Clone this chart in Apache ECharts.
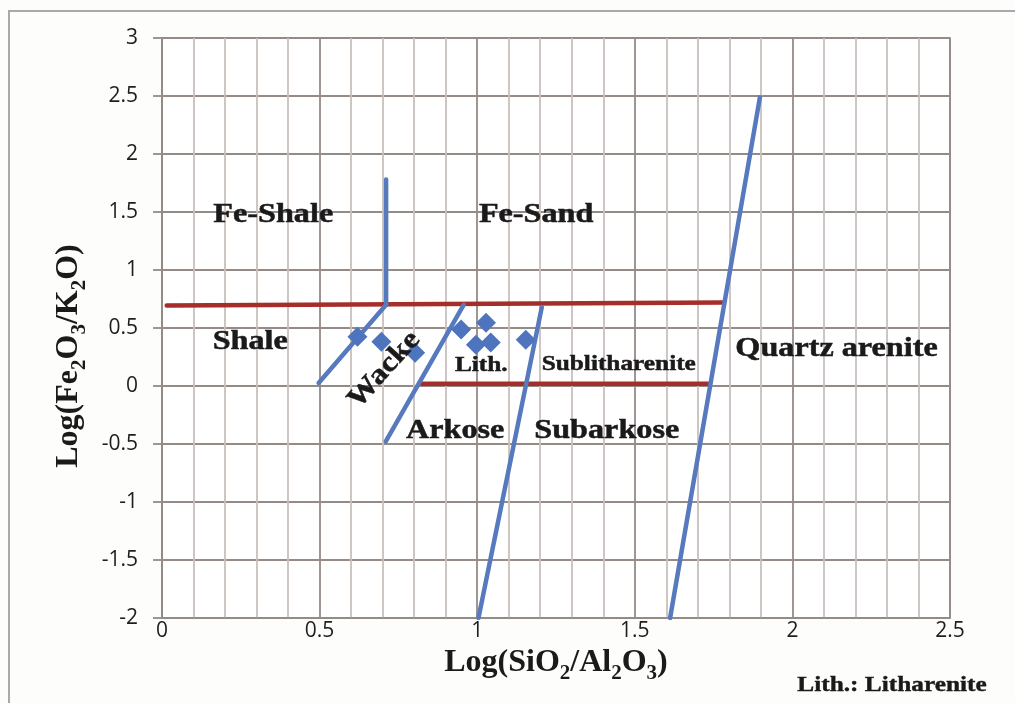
<!DOCTYPE html>
<html>
<head>
<meta charset="utf-8">
<script src="https://cdn.jsdelivr.net/npm/echarts@6/dist/echarts.min.js"></script>
<style>
  html, body { margin: 0; padding: 0; background: #fdfdfb; }
  #chart { width: 1015px; height: 703px; }
</style>
</head>
<body>
<div id="chart"></div>
<script>
// Sample compositions: [log(SiO2/Al2O3), log(Fe2O3/K2O)]
const samples = [
  [0.620, 0.425],
  [0.696, 0.382],
  [0.803, 0.287],
  [0.949, 0.486],
  [1.028, 0.546],
  [0.996, 0.356],
  [1.043, 0.374],
  [1.154, 0.399]
];

// Classification field boundaries (Herron 1988)
const feUpperLine = [[0.015, 0.693], [1.78, 0.72]];
const lithLowerLine = [[0.824, 0.02], [1.733, 0.02]];
const feShaleSandLine = [[0.711, 1.78], [0.711, 0.70]];
const shaleWackeLine = [[0.711, 0.70], [0.497, 0.026]];
const wackeArkoseLine = [[0.71, -0.478], [0.957, 0.70]];
const arkoseSubarkoseLine = [[1.004, -2.0], [1.205, 0.68]];
const quartzLine = [[1.612, -2.0], [1.897, 2.49]];

// Field names and their anchors in data units
const fieldNames = ['Fe-Shale', 'Fe-Sand', 'Shale', 'Wacke', 'Lith.', 'Sublitharenite', 'Arkose', 'Subarkose', 'Quartz arenite'];
const fieldAnchors = [[0.353, 1.478], [1.187, 1.478], [0.28, 0.382], [0.705, 0.14], [1.013, 0.18], [1.449, 0.184], [0.93, -0.39], [1.411, -0.39], [2.14, 0.32]];

const noteText = 'Lith.: Litharenite';

const blue = '#5779bd';
const red = '#a52d2a';
const gridMajor = '#958b86';
const gridMinor = '#c9c0bb';
const ink = '#1a1a1a';
const serif = '"Liberation Serif", "Times New Roman", serif';
const sans = '"Open Sans", sans-serif';

function boundary(data, color) {
  return {
    type: 'line',
    data: data,
    showSymbol: false,
    symbol: 'none',
    silent: true,
    lineStyle: { color: color, width: 4.5, cap: 'round' },
    z: color === red ? 2 : 3
  };
}

const titleRich = {
  a: { fontFamily: serif, fontWeight: 'bold', fontSize: 32, lineHeight: 42, color: ink, verticalAlign: 'middle' },
  s: { fontFamily: serif, fontWeight: 'bold', fontSize: 21, lineHeight: 42, color: ink, verticalAlign: 'bottom' }
};

const chart = echarts.init(document.getElementById('chart'));

chart.setOption({
  backgroundColor: 'transparent',
  animation: false,
  grid: {
    left: 162, right: 65, top: 38, bottom: 85,
    show: true, borderColor: gridMajor, borderWidth: 1.5, backgroundColor: '#ffffff'
  },
  xAxis: {
    type: 'value', min: 0, max: 2.5, interval: 0.5,
    name: '{a|Log(SiO}{s|2}{a|/Al}{s|2}{a|O}{s|3}{a|)}',
    nameLocation: 'middle', nameGap: 20,
    nameTextStyle: { rich: titleRich },
    axisLine: { show: true, onZero: false, lineStyle: { color: gridMajor, width: 1.5 } },
    axisTick: { show: false },
    minorTick: { show: false, splitNumber: 5 },
    axisLabel: { fontFamily: sans, fontSize: 21, color: '#1e1e1e', margin: 3 },
    splitLine: { show: true, lineStyle: { color: gridMajor, width: 1.8 } },
    minorSplitLine: { show: true, lineStyle: { color: gridMinor, width: 1.8 } }
  },
  yAxis: {
    type: 'value', min: -2, max: 3, interval: 0.5,
    name: '{a|Log(Fe}{s|2}{a|O}{s|3}{a|/K}{s|2}{a|O)}',
    nameLocation: 'middle', nameGap: 72,
    nameTextStyle: { rich: titleRich, padding: [0, 56, 0, 0] },
    axisLine: { show: true, onZero: false, lineStyle: { color: gridMajor, width: 1.5 } },
    axisTick: { show: true, inside: false, length: 9, lineStyle: { color: gridMajor, width: 1.8 } },
    axisLabel: { fontFamily: sans, fontSize: 21, color: '#1e1e1e', margin: 24 },
    splitLine: { show: true, lineStyle: { color: gridMajor, width: 1.8 } }
  },
  series: [
    boundary(feUpperLine, red),
    boundary(lithLowerLine, red),
    boundary(feShaleSandLine, blue),
    boundary(shaleWackeLine, blue),
    boundary(wackeArkoseLine, blue),
    boundary(arkoseSubarkoseLine, blue),
    boundary(quartzLine, blue),
    {
      type: 'scatter',
      data: samples,
      symbol: 'diamond',
      symbolSize: 20,
      itemStyle: { color: '#4d74bd', opacity: 1 },
      z: 5
    }
  ]
});

// Field labels: bold serif, slightly widened
const labelStyle = {
  'Lith.': { size: 22, rot: 0 },
  'Sublitharenite': { size: 22, rot: 0 },
  'Wacke': { size: 28, rot: 48 }
};

const graphics = fieldNames.map(function (name, i) {
  const p = chart.convertToPixel({ gridIndex: 0 }, fieldAnchors[i]);
  const st = labelStyle[name] || { size: 28, rot: 0 };
  return {
    type: 'text',
    x: p[0], y: p[1],
    rotation: st.rot * Math.PI / 180,
    scaleX: 1.15,
    z: 10,
    style: {
      text: name,
      font: 'bold ' + st.size + 'px ' + serif,
      fill: ink,
      stroke: ink,
      lineWidth: 0.5,
      align: 'center',
      verticalAlign: 'middle'
    }
  };
});

graphics.push({
  type: 'text',
  x: 892, y: 685,
  scaleX: 1.15,
  z: 10,
  style: {
    text: noteText,
    font: 'bold 22px ' + serif,
    fill: ink,
    stroke: ink,
    lineWidth: 0.4,
    align: 'center',
    verticalAlign: 'middle'
  }
});

// Outer frame of the figure
graphics.push({
  type: 'polyline',
  shape: { points: [[9, 703], [9, 11], [1015, 11]] },
  style: { stroke: '#a9a9a9', lineWidth: 2, fill: null },
  z: 1
});

chart.setOption({ graphic: graphics });
</script>
</body>
</html>
